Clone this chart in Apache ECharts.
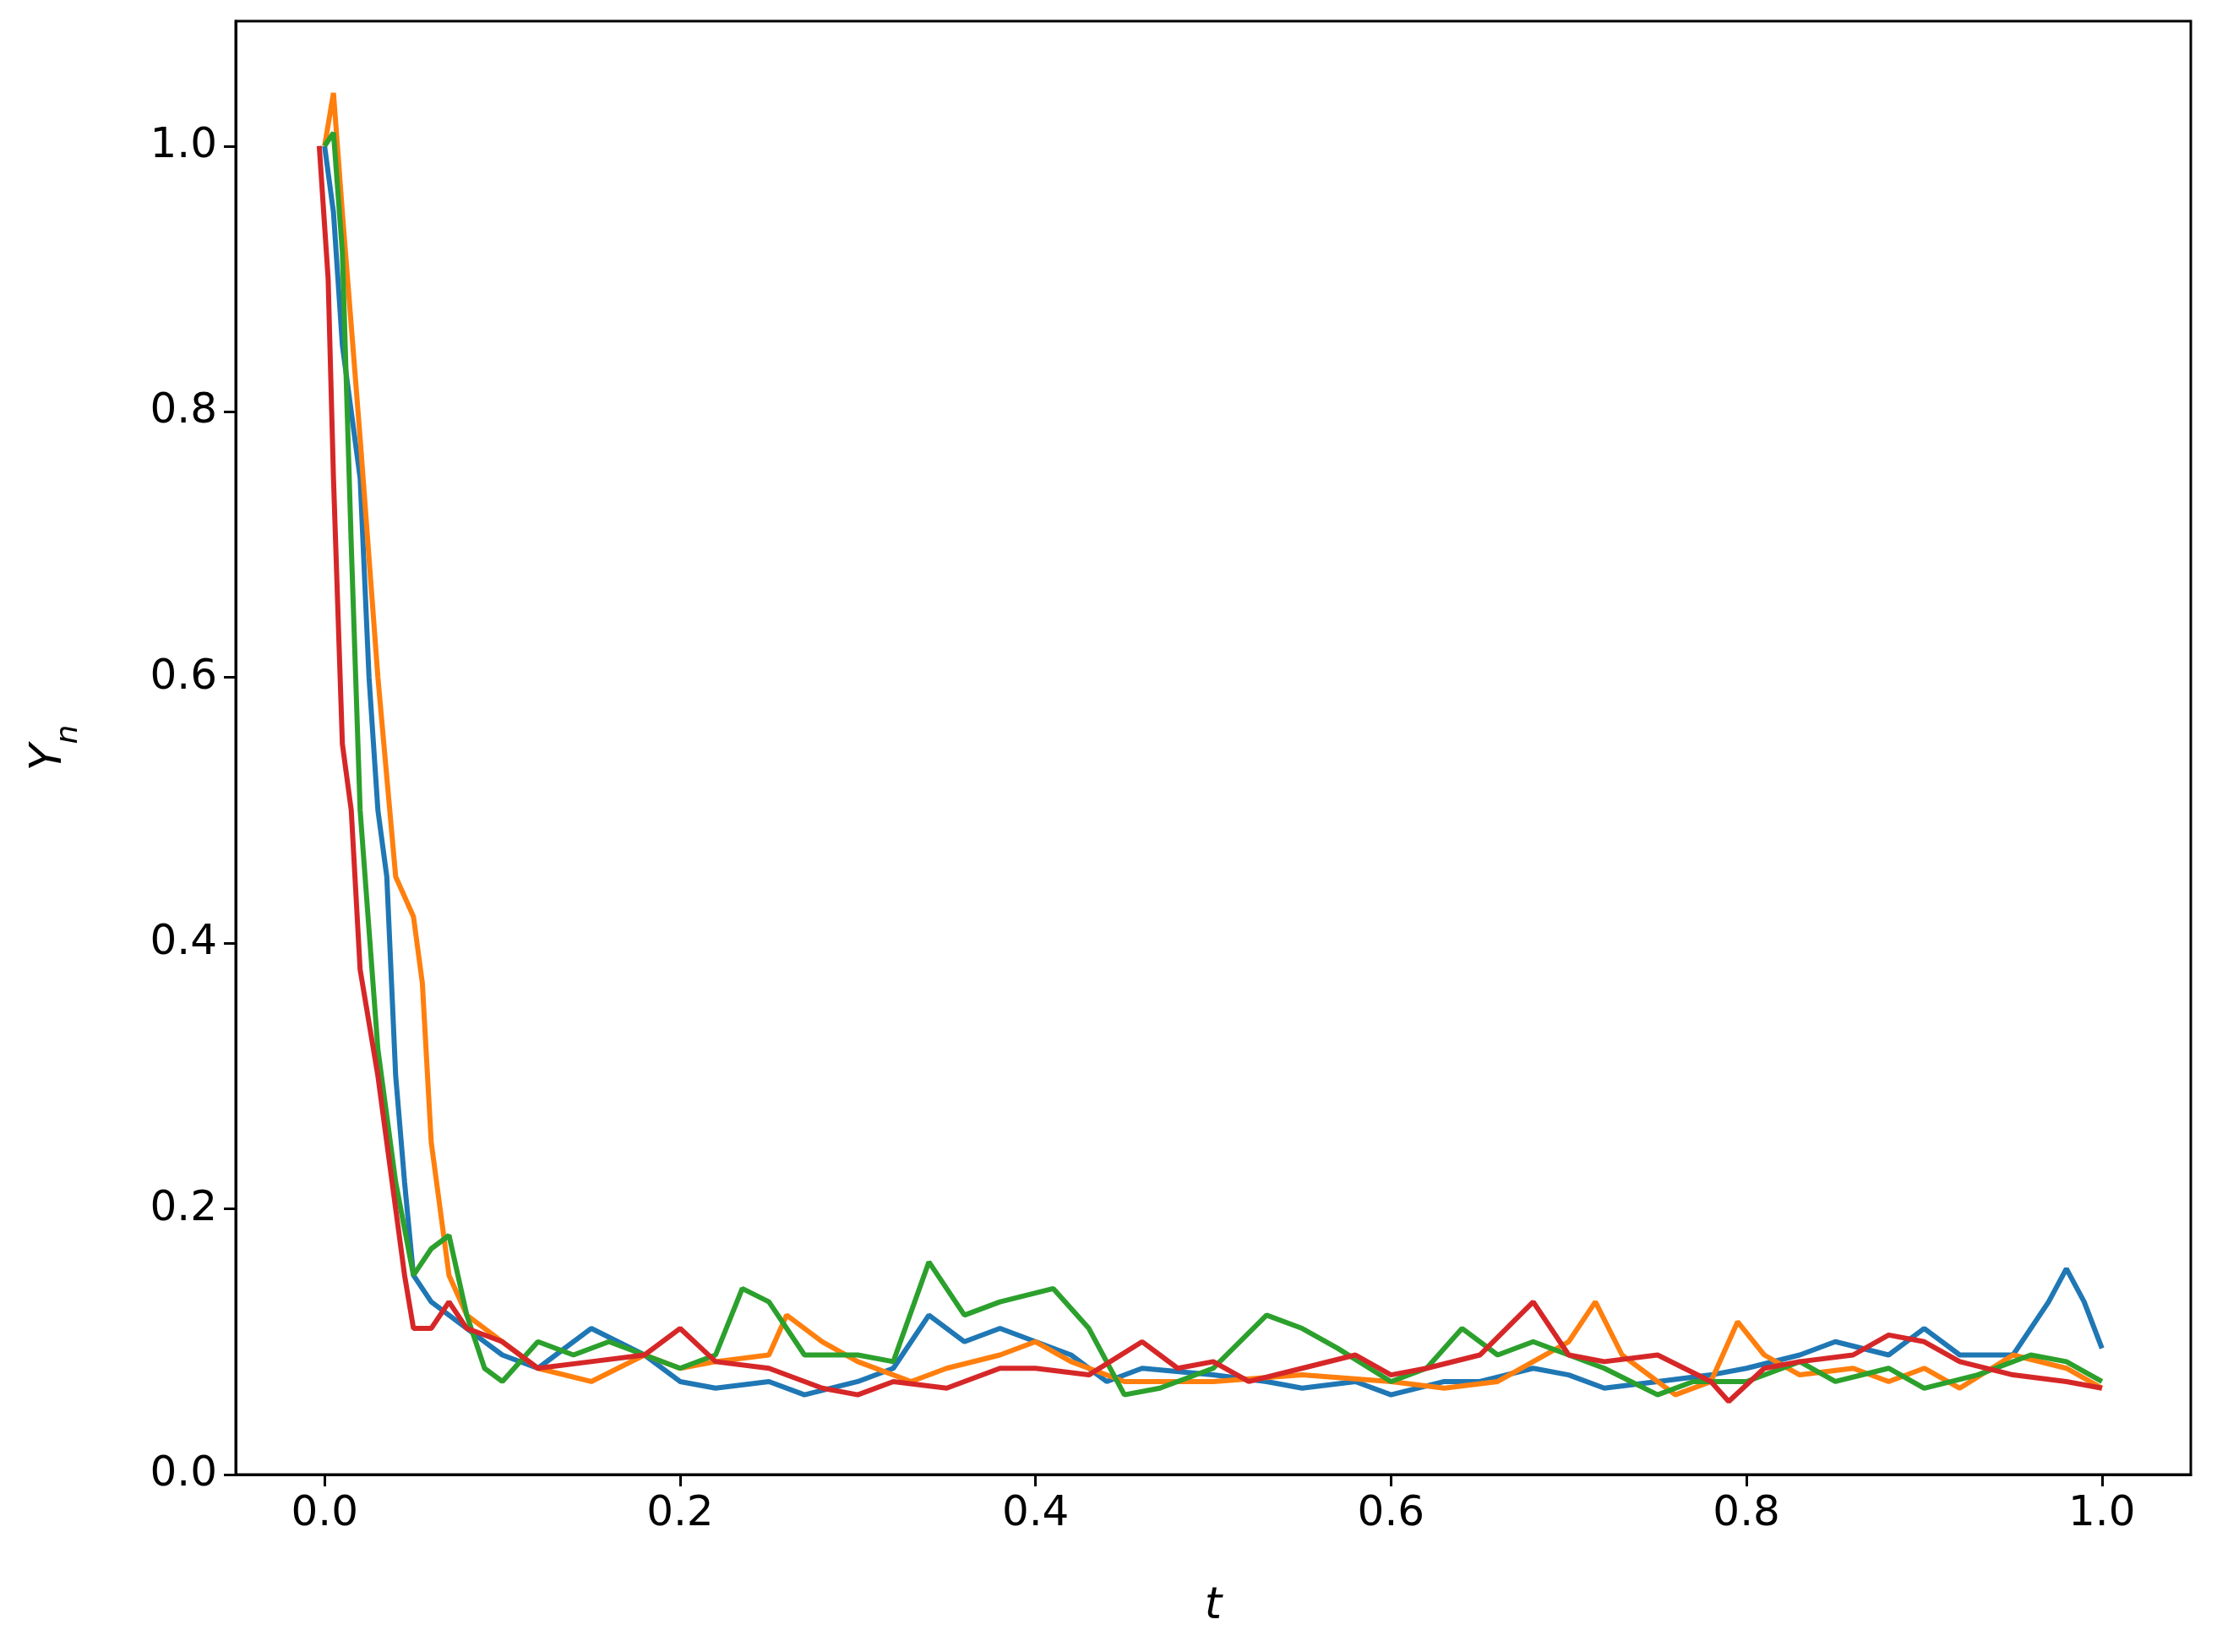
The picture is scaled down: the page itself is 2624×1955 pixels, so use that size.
<!DOCTYPE html>
<html>
<head>
<meta charset="utf-8">
<script src="https://cdn.jsdelivr.net/npm/echarts@6/dist/echarts.min.js"></script>
<style>html,body{margin:0;background:#fff}#chart{width:2624px;height:1955px}</style>
</head>
<body>
<div id="chart"></div>
<script>
// [t, Y_n] points
const blueSeries = [[0,1.0],[0.005,0.95],[0.01,0.85],[0.015,0.8],[0.02,0.75],[0.025,0.6],[0.03,0.5],[0.035,0.45],[0.04,0.3],[0.045,0.22],[0.05,0.15],[0.06,0.13],[0.07,0.12],[0.08,0.11],[0.09,0.1],[0.1,0.09],[0.12,0.08],[0.15,0.11],[0.18,0.09],[0.2,0.07],[0.22,0.065],[0.25,0.07],[0.27,0.06],[0.3,0.07],[0.32,0.08],[0.34,0.12],[0.36,0.1],[0.38,0.11],[0.4,0.1],[0.42,0.09],[0.44,0.07],[0.46,0.08],[0.5,0.075],[0.53,0.07],[0.55,0.065],[0.58,0.07],[0.6,0.06],[0.63,0.07],[0.65,0.07],[0.68,0.08],[0.7,0.075],[0.72,0.065],[0.75,0.07],[0.78,0.075],[0.8,0.08],[0.83,0.09],[0.85,0.1],[0.88,0.09],[0.9,0.11],[0.92,0.09],[0.95,0.09],[0.97,0.13],[0.98,0.155],[0.99,0.13],[1.0,0.095]];
const orangeSeries = [[0,1.0],[0.005,1.04],[0.01,0.95],[0.02,0.78],[0.03,0.6],[0.04,0.45],[0.05,0.42],[0.055,0.37],[0.06,0.25],[0.07,0.15],[0.08,0.12],[0.1,0.1],[0.12,0.08],[0.15,0.07],[0.18,0.09],[0.2,0.08],[0.22,0.085],[0.25,0.09],[0.26,0.12],[0.28,0.1],[0.3,0.085],[0.33,0.07],[0.35,0.08],[0.38,0.09],[0.4,0.1],[0.42,0.085],[0.45,0.07],[0.5,0.07],[0.55,0.075],[0.6,0.07],[0.63,0.065],[0.66,0.07],[0.7,0.1],[0.715,0.13],[0.73,0.09],[0.76,0.06],[0.78,0.07],[0.795,0.115],[0.81,0.09],[0.83,0.075],[0.86,0.08],[0.88,0.07],[0.9,0.08],[0.92,0.065],[0.95,0.09],[0.98,0.08],[1.0,0.065]];
const greenSeries = [[0,1.0],[0.005,1.01],[0.01,0.92],[0.015,0.7],[0.02,0.5],[0.03,0.32],[0.04,0.22],[0.05,0.15],[0.06,0.17],[0.07,0.18],[0.08,0.12],[0.09,0.08],[0.1,0.07],[0.12,0.1],[0.14,0.09],[0.16,0.1],[0.18,0.09],[0.2,0.08],[0.22,0.09],[0.235,0.14],[0.25,0.13],[0.27,0.09],[0.3,0.09],[0.32,0.085],[0.34,0.16],[0.36,0.12],[0.38,0.13],[0.41,0.14],[0.43,0.11],[0.45,0.06],[0.47,0.065],[0.5,0.08],[0.53,0.12],[0.55,0.11],[0.57,0.095],[0.6,0.07],[0.62,0.08],[0.64,0.11],[0.66,0.09],[0.68,0.1],[0.7,0.09],[0.72,0.08],[0.75,0.06],[0.77,0.07],[0.8,0.07],[0.83,0.085],[0.85,0.07],[0.88,0.08],[0.9,0.065],[0.93,0.075],[0.96,0.09],[0.98,0.085],[1.0,0.07]];
const redSeries = [[-0.003,1.0],[0.002,0.9],[0.005,0.75],[0.01,0.55],[0.015,0.5],[0.02,0.38],[0.03,0.3],[0.04,0.2],[0.045,0.15],[0.05,0.11],[0.06,0.11],[0.07,0.13],[0.08,0.11],[0.1,0.1],[0.12,0.08],[0.15,0.085],[0.18,0.09],[0.2,0.11],[0.22,0.085],[0.25,0.08],[0.28,0.065],[0.3,0.06],[0.32,0.07],[0.35,0.065],[0.38,0.08],[0.4,0.08],[0.43,0.075],[0.46,0.1],[0.48,0.08],[0.5,0.085],[0.52,0.07],[0.55,0.08],[0.58,0.09],[0.6,0.075],[0.62,0.08],[0.65,0.09],[0.68,0.13],[0.7,0.09],[0.72,0.085],[0.75,0.09],[0.78,0.07],[0.79,0.055],[0.81,0.08],[0.83,0.085],[0.86,0.09],[0.88,0.105],[0.9,0.1],[0.92,0.085],[0.95,0.075],[0.98,0.07],[1.0,0.065]];

const xTicks = [0, 0.2, 0.4, 0.6, 0.8, 1.0];
const yTicks = [0, 0.2, 0.4, 0.6, 0.8, 1.0];

const colors = ["#1f77b4", "#ff7f0e", "#2ca02c", "#d62728"];
const font = "DejaVu Sans";

function axisCommon(ticks) {
    return {
        axisLine: { show: true, onZero: false, lineStyle: { color: "#000", width: 3 } },
        axisTick: { show: true, inside: false, length: 14, lineStyle: { color: "#000", width: 3 }, customValues: ticks },
        splitLine: { show: false },
        axisLabel: { color: "#000", fontSize: 50, fontFamily: font, margin: 22,
            customValues: ticks, formatter: v => v.toFixed(1) }
    };
}

const chart = echarts.init(document.getElementById("chart"));
chart.setOption({
    backgroundColor: "#fff",
    animation: false,
    grid: { left: 279, right: 31, top: 25, bottom: 210, show: true, borderColor: "#000", borderWidth: 3 },
    xAxis: Object.assign(axisCommon(xTicks), {
        type: "value", min: -0.05, max: 1.05,
        name: "t", nameLocation: "middle", nameGap: 130,
        nameTextStyle: { fontSize: 52, fontStyle: "italic", fontFamily: font, color: "#000" }
    }),
    yAxis: Object.assign(axisCommon(yTicks), {
        type: "value", min: 0, max: 1.094,
        name: "{y|Y}{s|n}", nameLocation: "middle", nameGap: 195, nameRotate: 90,
        nameTextStyle: { rich: {
            y: { fontSize: 52, fontStyle: "italic", fontFamily: font, color: "#000" },
            s: { fontSize: 36, fontStyle: "italic", fontFamily: font, color: "#000", verticalAlign: "bottom", padding: [0, 0, -16, 0] }
        } }
    }),
    series: [blueSeries, orangeSeries, greenSeries, redSeries].map((d, i) => ({
        type: "line", data: d, showSymbol: false,
        lineStyle: { color: colors[i], width: 6 }, z: 2 + i
    }))
});
</script>
</body>
</html>
